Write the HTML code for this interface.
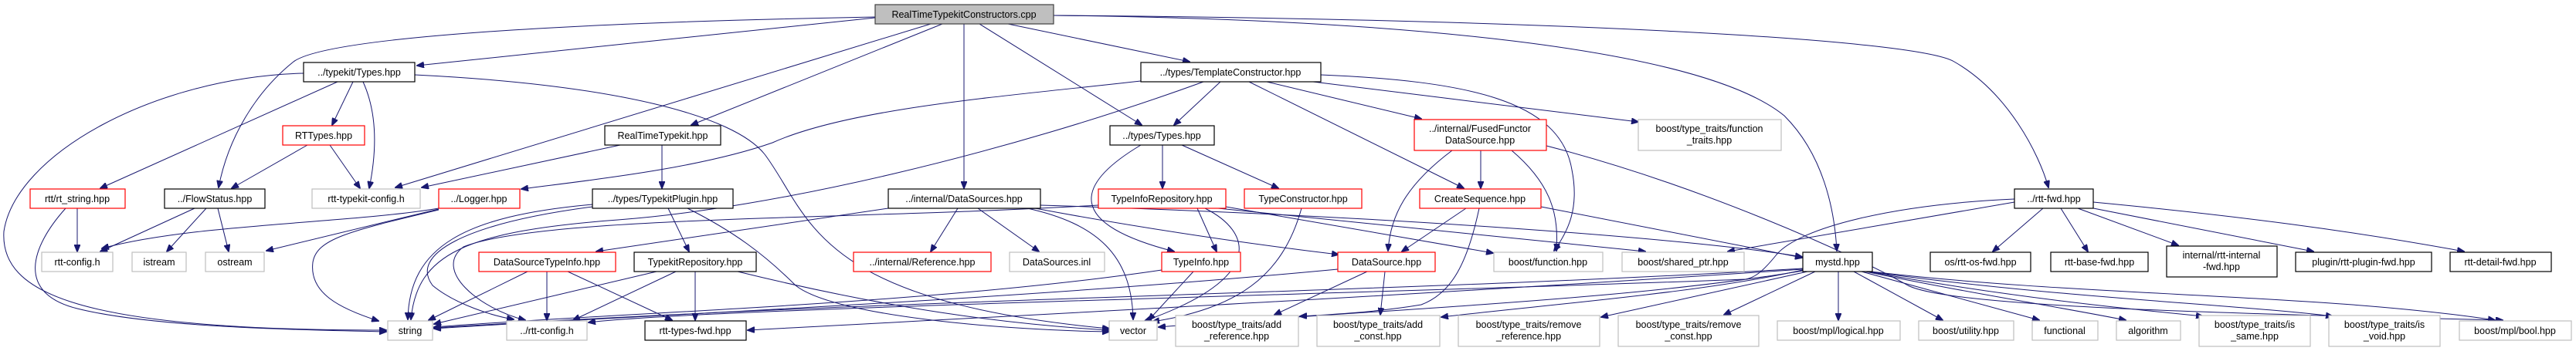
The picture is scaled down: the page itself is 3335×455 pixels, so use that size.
<!DOCTYPE html>
<html><head><meta charset="utf-8"><style>
html,body{margin:0;padding:0;background:#fff;}
svg{display:block;}
text{font-family:"Liberation Sans",Arial,sans-serif;font-size:12.5px;fill:#000;text-anchor:middle;}
.b{fill:#fff;stroke:#000;stroke-width:1.2;}
.r{fill:#fff;stroke:#ff0000;stroke-width:1.2;}
.g{fill:#fff;stroke:#bfbfbf;stroke-width:1.2;}
.root{fill:#bfbfbf;stroke:#404040;stroke-width:1.2;}
path{fill:none;stroke:#191970;stroke-width:1;}
</style></head><body>
<svg width="3335" height="455" viewBox="0 0 3335 455" xmlns="http://www.w3.org/2000/svg">
<defs><marker id="a" markerWidth="10" markerHeight="8" refX="9" refY="4" orient="auto" markerUnits="userSpaceOnUse"><path d="M0,0 L10,4 L0,8 z" style="fill:#191970;stroke:#191970"/></marker></defs>
<g marker-end="url(#a)">
<path d="M1133,23 L540,85"/>
<path d="M1133,22 C700,30 420,50 380,80 C330,120 295,180 283,243"/>
<path d="M1205,31 L512,243"/>
<path d="M1220,31 L895,162"/>
<path d="M1248,31 L1248,244"/>
<path d="M1268,31 L1478,162"/>
<path d="M1305,31 L1540,80"/>
<path d="M1364,20 C1800,25 2200,60 2310,150 C2360,200 2375,270 2378,325"/>
<path d="M1364,20 C2000,25 2480,50 2530,80 C2600,120 2640,200 2652,243"/>
<path d="M393,95 C200,100 20,200 5,300 C0,380 100,428 500,428"/>
<path d="M437,106 L130,244"/>
<path d="M457,106 L430,162"/>
<path d="M470,106 C490,150 487,200 478,244"/>
<path d="M537,97 C800,110 950,150 990,200 C1050,280 1050,390 1436,426"/>
<path d="M398,188 L300,244"/>
<path d="M427,188 L466,244"/>
<path d="M100,270 L100,326"/>
<path d="M85,270 C40,320 20,380 100,400 C200,425 400,428 500,430"/>
<path d="M252,270 L130,326"/>
<path d="M267,270 L216,326"/>
<path d="M282,270 L296,326"/>
<path d="M568,270 C450,290 250,290 132,322"/>
<path d="M568,271 L345,325"/>
<path d="M568,272 C450,300 410,310 405,340 C400,380 440,400 490,416"/>
<path d="M857,188 L857,244"/>
<path d="M803,188 L546,243"/>
<path d="M767,265 C600,280 530,320 528,414"/>
<path d="M767,268 C600,290 530,330 560,370 C590,395 640,410 665,414"/>
<path d="M865,270 L892,326"/>
<path d="M890,270 C950,300 990,330 1030,370 C1080,410 1300,428 1436,430"/>
<path d="M683,352 L555,415"/>
<path d="M708,352 L708,415"/>
<path d="M735,352 L870,415"/>
<path d="M850,352 L562,420"/>
<path d="M875,352 L742,415"/>
<path d="M900,352 L900,415"/>
<path d="M955,352 C1150,400 1300,420 1436,428"/>
<path d="M1477,105 C1300,125 1100,140 1000,185 C900,220 750,235 675,245"/>
<path d="M1558,106 C1300,200 1000,270 800,285 C600,300 540,330 532,414"/>
<path d="M1580,106 L1520,162"/>
<path d="M1617,106 L1895,244"/>
<path d="M1640,106 L1840,154"/>
<path d="M1710,97 C1900,105 2020,130 2035,220 C2045,270 2030,300 2012,325"/>
<path d="M1700,106 L2121,158"/>
<path d="M1477,188 C1390,240 1380,290 1520,326"/>
<path d="M1505,188 L1505,244"/>
<path d="M1530,188 L1655,244"/>
<path d="M1240,270 L1205,326"/>
<path d="M1266,270 L1345,326"/>
<path d="M1340,270 C1500,300 1650,320 1733,330"/>
<path d="M1330,270 C1420,290 1465,330 1467,414"/>
<path d="M1150,270 L772,326"/>
<path d="M1347,266 C1800,280 2200,310 2333,333"/>
<path d="M1550,270 L1575,326"/>
<path d="M1560,270 C1620,300 1640,360 1482,416"/>
<path d="M1577,270 L2130,326"/>
<path d="M1587,268 L1933,328"/>
<path d="M1422,266 C1100,285 700,280 600,320 C560,350 620,400 680,415"/>
<path d="M1685,270 C1660,360 1600,400 1492,417"/>
<path d="M1545,352 L1487,415"/>
<path d="M1504,350 C1200,395 800,405 562,424"/>
<path d="M1880,195 C1820,240 1800,280 1797,325"/>
<path d="M1917,195 L1917,244"/>
<path d="M1957,195 C2010,240 2018,280 2015,325"/>
<path d="M2002,189 C2200,240 2400,330 2470,370 C2520,395 2800,405 3240,415"/>
<path d="M1898,270 L1815,326"/>
<path d="M1915,270 C1900,340 1880,380 1840,395 C1780,405 1720,408 1683,410"/>
<path d="M1995,268 L2333,334"/>
<path d="M1770,352 L1650,408"/>
<path d="M1793,352 L1787,408"/>
<path d="M1732,349 C1300,390 800,410 562,426"/>
<path d="M2340,352 L2073,411"/>
<path d="M2350,352 L2232,408"/>
<path d="M2380,352 L2380,415"/>
<path d="M2400,352 L2515,415"/>
<path d="M2410,352 L2640,415"/>
<path d="M2415,352 C2550,380 2650,395 2752,415"/>
<path d="M2418,352 C2600,385 2750,400 2852,410"/>
<path d="M2420,352 C2650,385 2900,395 3020,410"/>
<path d="M2422,352 C2700,385 3000,380 3230,415"/>
<path d="M2334,350 C2200,380 2000,395 1866,411"/>
<path d="M2334,348 C1800,380 1200,385 562,425"/>
<path d="M2334,349 C1800,385 1300,410 968,428"/>
<path d="M2334,351 C2100,390 1800,400 1500,424"/>
<path d="M2645,270 L2580,326"/>
<path d="M2668,270 L2703,326"/>
<path d="M2690,270 L2820,318"/>
<path d="M2700,268 L2995,326"/>
<path d="M2710,262 C2900,280 3050,300 3190,326"/>
<path d="M2608,262 L2237,326"/>
<path d="M2608,258 C2450,265 2330,295 2300,330 C2280,355 2270,360 2260,362 C1800,380 900,400 762,418"/>
</g>
<!-- nodes -->
<rect class="root" x="1133" y="6" width="231" height="25"/><text x="1248" y="23">RealTimeTypekitConstructors.cpp</text>
<rect class="b" x="393" y="81" width="144" height="25"/><text x="465" y="98">../typekit/Types.hpp</text>
<rect class="b" x="1477" y="81" width="233" height="25"/><text x="1593" y="98">../types/TemplateConstructor.hpp</text>
<rect class="r" x="366" y="163" width="106" height="25"/><text x="419" y="180">RTTypes.hpp</text>
<rect class="b" x="783" y="163" width="150" height="25"/><text x="858" y="180">RealTimeTypekit.hpp</text>
<rect class="b" x="1437" y="163" width="135" height="25"/><text x="1504" y="180">../types/Types.hpp</text>
<rect class="r" x="1831" y="155" width="171" height="40"/><text x="1916" y="171">../internal/FusedFunctor</text><text x="1916" y="186">DataSource.hpp</text>
<rect class="g" x="2121" y="155" width="185" height="40"/><text x="2213" y="171">boost/type_traits/function</text><text x="2213" y="186">_traits.hpp</text>
<rect class="r" x="39" y="245" width="123" height="25"/><text x="100" y="262">rtt/rt_string.hpp</text>
<rect class="b" x="213" y="245" width="130" height="25"/><text x="278" y="262">../FlowStatus.hpp</text>
<rect class="g" x="404" y="245" width="140" height="25"/><text x="474" y="262">rtt-typekit-config.h</text>
<rect class="r" x="568" y="245" width="105" height="25"/><text x="620" y="262">../Logger.hpp</text>
<rect class="b" x="767" y="245" width="182" height="25"/><text x="858" y="262">../types/TypekitPlugin.hpp</text>
<rect class="b" x="1150" y="245" width="197" height="25"/><text x="1248" y="262">../internal/DataSources.hpp</text>
<rect class="r" x="1422" y="245" width="165" height="25"/><text x="1504" y="262">TypeInfoRepository.hpp</text>
<rect class="r" x="1611" y="245" width="152" height="25"/><text x="1687" y="262">TypeConstructor.hpp</text>
<rect class="r" x="1838" y="245" width="157" height="25"/><text x="1916" y="262">CreateSequence.hpp</text>
<rect class="b" x="2608" y="245" width="102" height="25"/><text x="2659" y="262">../rtt-fwd.hpp</text>
<rect class="g" x="54" y="327" width="92" height="25"/><text x="100" y="344">rtt-config.h</text>
<rect class="g" x="171" y="327" width="70" height="25"/><text x="206" y="344">istream</text>
<rect class="g" x="266" y="327" width="76" height="25"/><text x="304" y="344">ostream</text>
<rect class="r" x="620" y="327" width="177" height="25"/><text x="708" y="344">DataSourceTypeInfo.hpp</text>
<rect class="b" x="821" y="327" width="158" height="25"/><text x="900" y="344">TypekitRepository.hpp</text>
<rect class="r" x="1105" y="327" width="178" height="25"/><text x="1194" y="344">../internal/Reference.hpp</text>
<rect class="g" x="1307" y="327" width="123" height="25"/><text x="1368" y="344">DataSources.inl</text>
<rect class="r" x="1504" y="327" width="102" height="25"/><text x="1555" y="344">TypeInfo.hpp</text>
<rect class="r" x="1732" y="327" width="126" height="25"/><text x="1795" y="344">DataSource.hpp</text>
<rect class="g" x="1934" y="327" width="141" height="25"/><text x="2004" y="344">boost/function.hpp</text>
<rect class="g" x="2100" y="327" width="158" height="25"/><text x="2179" y="344">boost/shared_ptr.hpp</text>
<rect class="b" x="2334" y="327" width="90" height="25"/><text x="2379" y="344">mystd.hpp</text>
<rect class="b" x="2499" y="327" width="130" height="25"/><text x="2564" y="344">os/rtt-os-fwd.hpp</text>
<rect class="b" x="2655" y="327" width="126" height="25"/><text x="2718" y="344">rtt-base-fwd.hpp</text>
<rect class="b" x="2805" y="319" width="143" height="40"/><text x="2876" y="335">internal/rtt-internal</text><text x="2876" y="350">-fwd.hpp</text>
<rect class="b" x="2972" y="327" width="176" height="25"/><text x="3060" y="344">plugin/rtt-plugin-fwd.hpp</text>
<rect class="b" x="3172" y="327" width="131" height="25"/><text x="3237" y="344">rtt-detail-fwd.hpp</text>
<rect class="g" x="502" y="416" width="58" height="25"/><text x="531" y="433">string</text>
<rect class="g" x="656" y="416" width="104" height="25"/><text x="708" y="433">../rtt-config.h</text>
<rect class="b" x="835" y="416" width="131" height="25"/><text x="900" y="433">rtt-types-fwd.hpp</text>
<rect class="g" x="1436" y="416" width="62" height="25"/><text x="1467" y="433">vector</text>
<rect class="g" x="1522" y="409" width="159" height="40"/><text x="1601" y="425">boost/type_traits/add</text><text x="1601" y="440">_reference.hpp</text>
<rect class="g" x="1705" y="409" width="159" height="40"/><text x="1784" y="425">boost/type_traits/add</text><text x="1784" y="440">_const.hpp</text>
<rect class="g" x="1888" y="409" width="183" height="40"/><text x="1979" y="425">boost/type_traits/remove</text><text x="1979" y="440">_reference.hpp</text>
<rect class="g" x="2095" y="409" width="182" height="40"/><text x="2186" y="425">boost/type_traits/remove</text><text x="2186" y="440">_const.hpp</text>
<rect class="g" x="2301" y="416" width="159" height="25"/><text x="2380" y="433">boost/mpl/logical.hpp</text>
<rect class="g" x="2484" y="416" width="123" height="25"/><text x="2545" y="433">boost/utility.hpp</text>
<rect class="g" x="2631" y="416" width="85" height="25"/><text x="2673" y="433">functional</text>
<rect class="g" x="2740" y="416" width="83" height="25"/><text x="2781" y="433">algorithm</text>
<rect class="g" x="2847" y="409" width="144" height="40"/><text x="2919" y="425">boost/type_traits/is</text><text x="2919" y="440">_same.hpp</text>
<rect class="g" x="3015" y="409" width="144" height="40"/><text x="3087" y="425">boost/type_traits/is</text><text x="3087" y="440">_void.hpp</text>
<rect class="g" x="3184" y="416" width="145" height="25"/><text x="3256" y="433">boost/mpl/bool.hpp</text>
</svg>
</body></html>
